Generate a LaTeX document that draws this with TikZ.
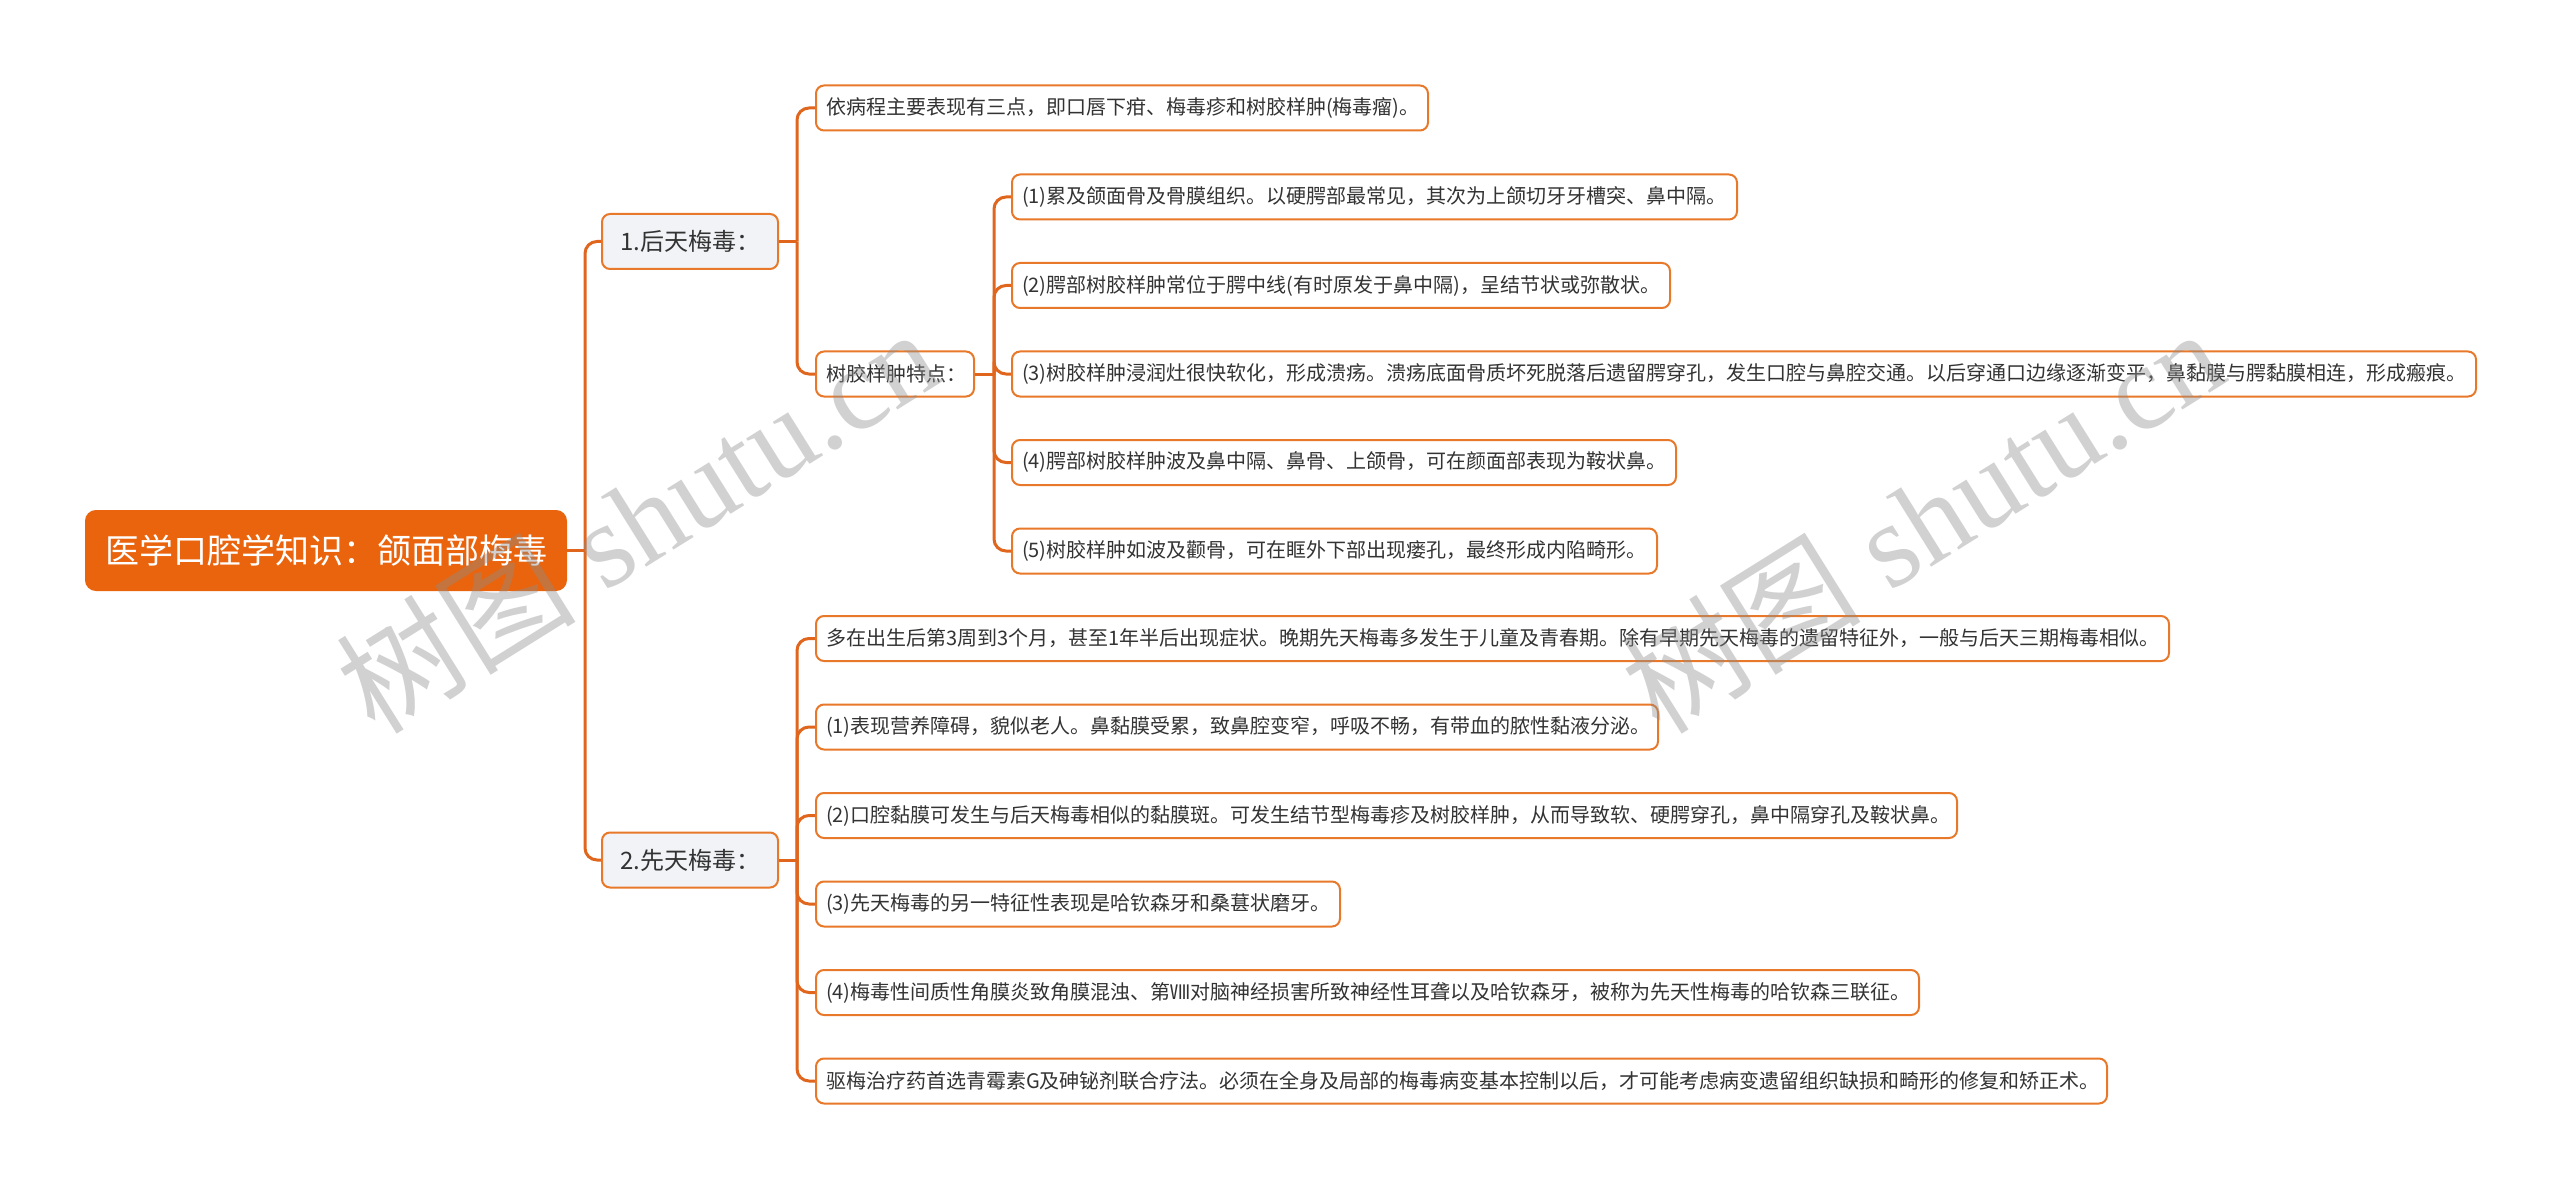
\documentclass[tikz,border=0pt]{standalone}
\usepackage{fontspec}
\setmainfont{Noto Sans CJK SC}
\newfontfamily\wmcjk{Noto Sans CJK SC}
\newfontfamily\wmlat{Liberation Serif}
\usetikzlibrary{calc}
\definecolor{rootfill}{HTML}{EA640D}
\definecolor{linec}{HTML}{E0661E}
\definecolor{bordc}{HTML}{E8782A}
\definecolor{lonefill}{HTML}{F1F3F6}
\definecolor{txtc}{HTML}{333333}
\newcommand\fixw[2]{\makebox[#1pt][l]{#2}}
\begin{document}
\begin{tikzpicture}[x=1pt,y=-1pt,
 rootbox/.style={draw=rootfill, fill=rootfill, rounded corners=10pt, line width=2pt, text=white, font=\fontsize{34}{40}\selectfont, minimum height=79pt, minimum width=480pt, inner sep=0pt, anchor=west},
 topicbox/.style={draw=bordc, fill=lonefill, rounded corners=8pt, line width=2pt, text=txtc, font=\fontsize{24}{28}\selectfont, minimum height=55pt, minimum width=176pt, inner sep=0pt, anchor=west},
 leafbox/.style={draw=bordc, fill=white, rounded corners=8pt, line width=2pt, text=txtc, font=\fontsize{20}{24}\selectfont, minimum height=45pt, inner xsep=10pt, inner ysep=0pt, anchor=west},
 conn/.style={draw=linec, line width=3pt, rounded corners=12pt},
 wmark/.style={rotate=32, text=black!45, opacity=0.4, font=\fontsize{120}{130}\selectfont, inner sep=0pt},
]
\useasboundingbox (0,0) rectangle (2560,1190);
\fill[white] (0,0) rectangle (2560,1190);

\node[rootbox] (root) at (85,550.5) {医学口腔学知识：颌面部梅毒};
\node[topicbox] (t1) at (601,241.5) {1.后天梅毒：};
\node[topicbox] (t2) at (601,860) {2.先天梅毒：};

\node[leafbox] (a1) at (815,108) {\fixw{592}{依病程主要表现有三点，即口唇下疳、梅毒疹和树胶样肿(梅毒瘤)。}};
\node[leafbox] (a2) at (815,374) {\fixw{138}{树胶样肿特点：}};

\node[leafbox] (b1) at (1011,197) {\fixw{705}{(1)累及颌面骨及骨膜组织。以硬腭部最常见，其次为上颌切牙牙槽突、鼻中隔。}};
\node[leafbox] (b2) at (1011,285.5) {\fixw{638}{(2)腭部树胶样肿常位于腭中线(有时原发于鼻中隔)，呈结节状或弥散状。}};
\node[leafbox] (b3) at (1011,374) {\fixw{1444}{(3)树胶样肿浸润灶很快软化，形成溃疡。溃疡底面骨质坏死脱落后遗留腭穿孔，发生口腔与鼻腔交通。以后穿通口边缘逐渐变平，鼻黏膜与腭黏膜相连，形成瘢痕。}};
\node[leafbox] (b4) at (1011,462.5) {\fixw{644}{(4)腭部树胶样肿波及鼻中隔、鼻骨、上颌骨，可在颜面部表现为鞍状鼻。}};
\node[leafbox] (b5) at (1011,551) {\fixw{625}{(5)树胶样肿如波及颧骨，可在眶外下部出现瘘孔，最终形成内陷畸形。}};

\node[leafbox] (c1) at (815,638.5) {\fixw{1333}{多在出生后第3周到3个月，甚至1年半后出现症状。晚期先天梅毒多发生于儿童及青春期。除有早期先天梅毒的遗留特征外，一般与后天三期梅毒相似。}};
\node[leafbox] (c2) at (815,727) {\fixw{822}{(1)表现营养障碍，貌似老人。鼻黏膜受累，致鼻腔变窄，呼吸不畅，有带血的脓性黏液分泌。}};
\node[leafbox] (c3) at (815,815.5) {\fixw{1121}{(2)口腔黏膜可发生与后天梅毒相似的黏膜斑。可发生结节型梅毒疹及树胶样肿，从而导致软、硬腭穿孔，鼻中隔穿孔及鞍状鼻。}};
\node[leafbox] (c4) at (815,904) {\fixw{504}{(3)先天梅毒的另一特征性表现是哈钦森牙和桑葚状磨牙。}};
\node[leafbox] (c5) at (815,992.5) {\fixw{1083}{(4)梅毒性间质性角膜炎致角膜混浊、第Ⅷ对脑神经损害所致神经性耳聋以及哈钦森牙，被称为先天性梅毒的哈钦森三联征。}};
\node[leafbox] (c6) at (815,1081) {\fixw{1271}{驱梅治疗药首选青霉素G及砷铋剂联合疗法。必须在全身及局部的梅毒病变基本控制以后，才可能考虑病变遗留组织缺损和畸形的修复和矫正术。}};

\coordinate (j0) at ($(root.east)+(18,0)$);
\coordinate (j1) at ($(t1.east)+(18,0)$);
\coordinate (j2) at ($(t2.east)+(18,0)$);
\coordinate (j3) at ($(a2.east)+(19,0)$);

\draw[conn] (root.east) -- (j0);
\foreach \n in {t1,t2} \draw[conn] (j0) |- (\n.west);
\draw[conn] (t1.east) -- (j1);
\foreach \n in {a1,a2} \draw[conn] (j1) |- (\n.west);
\draw[conn] (a2.east) -- (j3);
\foreach \n in {b1,b2,b3,b4,b5} \draw[conn] (j3) |- (\n.west);
\draw[conn] (t2.east) -- (j2);
\foreach \n in {c1,c2,c3,c4,c5,c6} \draw[conn] (j2) |- (\n.west);

\node[wmark] (wm1) at (637,519) {\wmcjk 树图\wmlat\ shutu.cn};
\node[wmark] (wm2) at (1922,519) {\wmcjk 树图\wmlat\ shutu.cn};
\end{tikzpicture}
\end{document}
